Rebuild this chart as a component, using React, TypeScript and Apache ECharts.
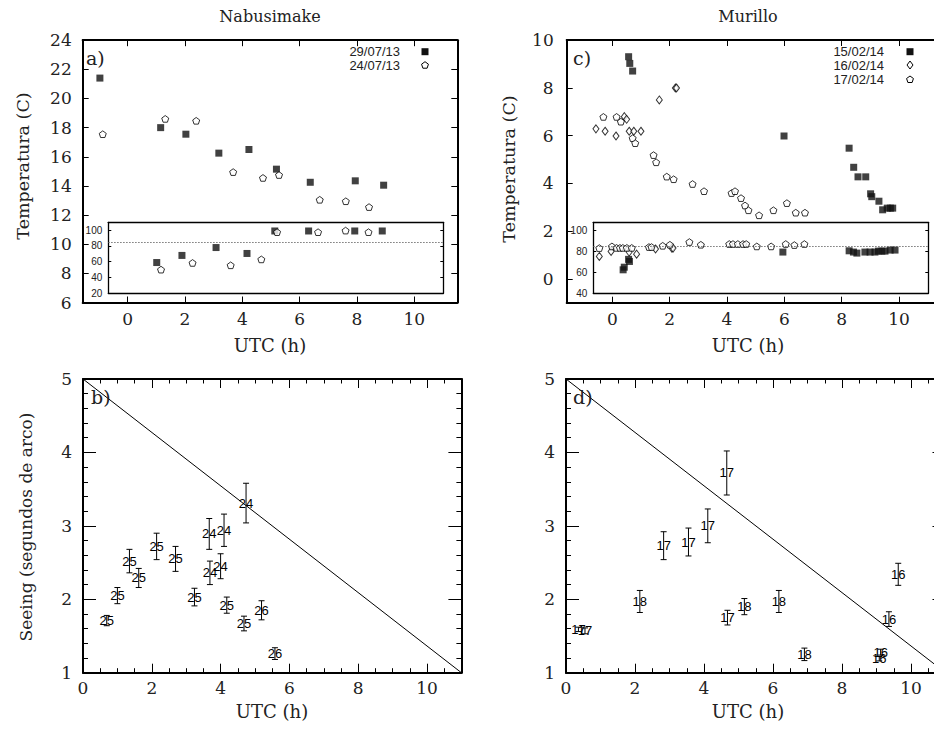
import { useEffect, useRef } from "react";
import * as echarts from "echarts";

const SERIF = "DejaVu Serif";
const SANS = "Liberation Sans";

// ---------- texts ----------
const titleLeft = "Nabusimake";
const titleRight = "Murillo";
const yNameTemp = "Temperatura (C)";
const yNameSeeing = "Seeing (segundos de arco)";
const xName = "UTC (h)";
const panelLabels = ["a)", "b)", "c)", "d)"];
const legendA = ["29/07/13", "24/07/13"];
const legendC = ["15/02/14", "16/02/14", "17/02/14"];

// ---------- tick values ----------
const tempXTicks = [0, 2, 4, 6, 8, 10];
const aYTicks = [6, 8, 10, 12, 14, 16, 18, 20, 22, 24];
const cYTicks = [0, 2, 4, 6, 8, 10];
const aInsetTicks = [20, 40, 60, 80, 100];
const cInsetTicks = [40, 60, 80, 100];
const seeXTicks = [0, 2, 4, 6, 8, 10];
const seeXMinor = [0, 0.5, 1, 1.5, 2, 2.5, 3, 3.5, 4, 4.5, 5, 5.5, 6, 6.5, 7, 7.5, 8, 8.5, 9, 9.5, 10, 10.5, 11];
const seeYTicks = [1, 2, 3, 4, 5];
const seeYMinor = [1, 1.2, 1.4, 1.6, 1.8, 2, 2.2, 2.4, 2.6, 2.8, 3, 3.2, 3.4, 3.6, 3.8, 4, 4.2, 4.4, 4.6, 4.8, 5];
const humidityRef = 85;

// ---------- panel a (Nabusimake temperature) ----------
const aSqX = [-0.97, 1.15, 2.03, 3.18, 4.23, 5.19, 6.37, 7.94, 8.93];
const aSqY = [21.4, 18.0, 17.55, 16.25, 16.5, 15.15, 14.25, 14.35, 14.05];
const aPentX = [-0.87, 1.31, 2.39, 3.68, 4.72, 5.28, 6.7, 7.61, 8.42];
const aPentY = [17.55, 18.6, 18.47, 14.95, 14.55, 14.75, 13.05, 12.95, 12.55];
// inset a (humidity %)
const aInSqX = [1.01, 1.89, 3.08, 4.16, 5.13, 6.31, 7.92, 8.88];
const aInSqY = [59, 68, 78, 70.5, 99, 99, 99, 99];
const aInPentX = [1.16, 2.26, 3.59, 4.66, 5.21, 6.64, 7.6, 8.4];
const aInPentY = [50, 58.5, 55.5, 63, 97.5, 97.5, 99.5, 97.5];

// ---------- panel c (Murillo temperature) ----------
const cSqX = [0.57, 0.61, 0.71, 5.99, 8.26, 8.42, 8.57, 8.84, 9.01, 9.05, 9.3, 9.43, 9.59, 9.7, 9.78];
const cSqY = [9.3, 9.02, 8.7, 5.98, 5.47, 4.67, 4.27, 4.27, 3.56, 3.44, 3.25, 2.89, 2.96, 2.96, 2.96];
const cDiaX = [-0.57, -0.25, 0.13, 0.42, 0.5, 0.59, 0.75, 1.0, 1.64, 2.2, 2.24];
const cDiaY = [6.28, 6.18, 5.98, 6.79, 6.68, 6.18, 6.18, 6.18, 7.49, 7.99, 7.99];
const cPentX = [-0.31, 0.15, 0.3, 0.71, 0.8, 1.44, 1.53, 1.9, 2.14, 2.8, 3.2, 4.16, 4.28, 4.49, 4.63, 4.75, 5.12, 5.62, 6.09, 6.4, 6.72];
const cPentY = [6.78, 6.78, 6.58, 5.89, 5.68, 5.18, 4.88, 4.28, 4.17, 3.97, 3.67, 3.59, 3.67, 3.38, 3.07, 2.87, 2.66, 2.87, 3.17, 2.77, 2.77];
// inset c (humidity %)
const cInSqX = [0.38, 0.42, 0.57, 0.6, 5.95, 8.26, 8.41, 8.53, 8.81, 8.99, 9.16, 9.28, 9.4, 9.51, 9.69, 9.86];
const cInSqY = [62.5, 65, 72.5, 70.5, 79.5, 80.7, 79.5, 78.5, 79.5, 79.5, 79.5, 80.4, 80.4, 80.4, 81.4, 81.4];
const cInDiaX = [-0.45, -0.04, 0.59, 0.85, 1.51, 2.08, 2.12];
const cInDiaY = [75.3, 80.1, 79.5, 77.5, 82.4, 83.3, 83.3];
const cInPentX = [-0.45, -0.01, 0.15, 0.27, 0.37, 0.51, 0.68, 1.28, 1.37, 1.76, 2.01, 2.69, 3.09, 4.08, 4.21, 4.38, 4.56, 4.67, 5.04, 5.54, 6.05, 6.35, 6.7];
const cInPentY = [83.3, 84.9, 83.5, 83.5, 83.5, 83.5, 83.5, 84.3, 84.3, 85.5, 86.5, 89.1, 86.5, 87.2, 87.2, 87.2, 87.2, 87.2, 84.9, 84.9, 87.2, 86.2, 87.2];

// ---------- panel b (Nabusimake seeing) ----------
const bX = [0.69, 1.0, 1.35, 1.62, 2.14, 2.69, 3.24, 3.67, 4.1, 3.69, 4.0, 4.18, 4.68, 4.74, 5.19, 5.58];
const bY = [1.71, 2.05, 2.52, 2.29, 2.72, 2.55, 2.03, 2.89, 2.94, 2.36, 2.45, 1.92, 1.67, 3.31, 1.85, 1.26];
const bErr = [0.07, 0.11, 0.16, 0.13, 0.18, 0.17, 0.12, 0.21, 0.22, 0.16, 0.17, 0.11, 0.1, 0.27, 0.13, 0.08];
const bLab = ["25", "25", "25", "25", "25", "25", "25", "24", "24", "24", "24", "25", "25", "24", "26", "26"];

// ---------- panel d (Murillo seeing) ----------
const dX = [0.36, 0.55, 2.14, 2.83, 3.55, 4.11, 4.66, 4.68, 5.17, 6.17, 6.91, 9.08, 9.12, 9.36, 9.63];
const dY = [1.59, 1.57, 1.97, 2.73, 2.78, 3.0, 3.72, 1.75, 1.9, 1.97, 1.25, 1.19, 1.28, 1.73, 2.34];
const dErr = [0.03, 0.04, 0.15, 0.19, 0.19, 0.23, 0.3, 0.1, 0.11, 0.15, 0.085, 0.03, 0.04, 0.1, 0.15];
const dLab = ["17", "17", "18", "17", "17", "17", "17", "17", "18", "18", "18", "16", "16", "16", "16"];

// reference line in seeing panels
const seeLine = [
  [0, 5],
  [11, 1],
];

const pentPath = "path://M0,-10L9.511,-3.09L5.878,8.09L-5.878,8.09L-9.511,-3.09Z";

type AxOpt = {
  grid: number;
  min: number;
  max: number;
  pos: string;
  ticks: number[];
  len: number;
  lw: number;
  labels?: number[];
  margin?: number;
  size?: number;
  family?: string;
};

function ax(o: AxOpt): any {
  return {
    type: "value",
    gridIndex: o.grid,
    min: o.min,
    max: o.max,
    position: o.pos,
    axisLine: { show: o.lw > 0, onZero: false, lineStyle: { color: "#000", width: o.lw } },
    axisTick: o.ticks.length
      ? { show: true, inside: true, length: o.len, customValues: o.ticks, lineStyle: { color: "#000", width: 1 } }
      : { show: false },
    axisLabel: o.labels
      ? { show: true, customValues: o.labels, margin: o.margin, fontSize: o.size, fontFamily: o.family, color: "#222" }
      : { show: false },
    splitLine: { show: false },
    minorTick: { show: false },
    axisPointer: { show: false },
  };
}

function scatter(name: string, xs: number[], ys: number[], kind: string, xi: number, extra?: any): any {
  const base: any = {
    type: "scatter",
    name,
    xAxisIndex: xi,
    yAxisIndex: xi,
    silent: true,
    z: 3,
    data: xs.map((x, i) => [x, ys[i]]),
  };
  if (kind === "sq") Object.assign(base, { symbol: "rect", symbolSize: 7, itemStyle: { color: "#111" } });
  if (kind === "pent")
    Object.assign(base, {
      symbol: pentPath,
      symbolKeepAspect: true,
      symbolSize: 7,
      itemStyle: { color: "#fff", borderColor: "#000", borderWidth: 1 },
    });
  if (kind === "dia")
    Object.assign(base, {
      symbol: "diamond",
      symbolSize: [6, 8],
      itemStyle: { color: "#fff", borderColor: "#000", borderWidth: 1 },
    });
  return { ...base, ...(extra || {}) };
}

function errSeries(name: string, xs: number[], ys: number[], es: number[], labels: string[], xi: number): any {
  return {
    type: "custom",
    name,
    xAxisIndex: xi,
    yAxisIndex: xi,
    silent: true,
    z: 4,
    data: xs.map((x, i) => [x, ys[i], es[i]]),
    encode: { x: 0, y: 1 },
    renderItem: (params: any, api: any) => {
      const x = api.value(0);
      const y = api.value(1);
      const e = api.value(2);
      const c = api.coord([x, y]);
      const lo = api.coord([x, y - e]);
      const hi = api.coord([x, y + e]);
      const st = { stroke: "#000", lineWidth: 1 };
      return {
        type: "group",
        children: [
          { type: "line", shape: { x1: c[0], y1: lo[1], x2: c[0], y2: hi[1] }, style: st },
          { type: "line", shape: { x1: c[0] - 3, y1: lo[1], x2: c[0] + 3, y2: lo[1] }, style: st },
          { type: "line", shape: { x1: c[0] - 3, y1: hi[1], x2: c[0] + 3, y2: hi[1] }, style: st },
          {
            type: "text",
            x: c[0],
            y: c[1],
            style: {
              text: labels[params.dataIndex],
              fill: "#000",
              fontSize: 13,
              fontFamily: SANS,
              align: "center",
              verticalAlign: "middle",
              textAlign: "center",
              textVerticalAlign: "middle",
            },
          },
        ],
      };
    },
  };
}

function txt(text: string, x: number, y: number, size: number, family: string, align = "center", rot = 0): any {
  return {
    type: "text",
    x,
    y,
    rotation: rot,
    silent: true,
    z: 10,
    style: {
      text,
      fontSize: size,
      fontFamily: family,
      fill: "#222",
      align,
      verticalAlign: "middle",
      textAlign: align,
      textVerticalAlign: "middle",
    },
  };
}

function pentPts(cx: number, cy: number, r: number): number[][] {
  const pts: number[][] = [];
  for (let k = 0; k < 5; k++) {
    const a = -Math.PI / 2 + (k * 2 * Math.PI) / 5;
    pts.push([cx + r * Math.cos(a), cy + r * Math.sin(a)]);
  }
  return pts;
}

function buildOption(): any {
  const xAxis: any[] = [];
  const yAxis: any[] = [];
  const big = { size: 17, family: SERIF };
  const small = { size: 10, family: SANS };

  // grid 0: panel a
  xAxis.push(ax({ grid: 0, min: -1.57, max: 11.5, pos: "bottom", ticks: tempXTicks, len: 6, lw: 2, labels: tempXTicks, margin: 8, ...big }));
  yAxis.push(ax({ grid: 0, min: 6, max: 24, pos: "left", ticks: aYTicks, len: 6, lw: 2, labels: aYTicks, margin: 11, ...big }));
  xAxis.push(ax({ grid: 0, min: -1.57, max: 11.5, pos: "top", ticks: tempXTicks, len: 6, lw: 2 }));
  yAxis.push(ax({ grid: 0, min: 6, max: 24, pos: "right", ticks: aYTicks, len: 6, lw: 2 }));
  // grid 1: inset a
  xAxis.push(ax({ grid: 1, min: -0.68, max: 11.01, pos: "bottom", ticks: [], len: 0, lw: 1.3 }));
  yAxis.push(ax({ grid: 1, min: 20, max: 110, pos: "left", ticks: aInsetTicks, len: 3, lw: 1.3, labels: aInsetTicks, margin: 6, ...small }));
  xAxis.push(ax({ grid: 1, min: -0.68, max: 11.01, pos: "top", ticks: [], len: 0, lw: 1.3 }));
  yAxis.push(ax({ grid: 1, min: 20, max: 110, pos: "right", ticks: aInsetTicks, len: 3, lw: 1.3 }));
  // grid 2: panel c
  xAxis.push(ax({ grid: 2, min: -1.59, max: 11.5, pos: "bottom", ticks: tempXTicks, len: 6, lw: 2, labels: tempXTicks, margin: 8, ...big }));
  yAxis.push(ax({ grid: 2, min: -1, max: 10, pos: "left", ticks: cYTicks, len: 6, lw: 2, labels: cYTicks, margin: 13, ...big }));
  xAxis.push(ax({ grid: 2, min: -1.59, max: 11.5, pos: "top", ticks: tempXTicks, len: 6, lw: 2 }));
  yAxis.push(ax({ grid: 2, min: -1, max: 10, pos: "right", ticks: cYTicks, len: 6, lw: 2 }));
  // grid 3: inset c
  xAxis.push(ax({ grid: 3, min: -0.66, max: 11.02, pos: "bottom", ticks: [], len: 0, lw: 1.3 }));
  yAxis.push(ax({ grid: 3, min: 40, max: 108, pos: "left", ticks: cInsetTicks, len: 3, lw: 1.3, labels: cInsetTicks, margin: 6, ...small }));
  xAxis.push(ax({ grid: 3, min: -0.66, max: 11.02, pos: "top", ticks: [], len: 0, lw: 1.3 }));
  yAxis.push(ax({ grid: 3, min: 40, max: 108, pos: "right", ticks: cInsetTicks, len: 3, lw: 1.3 }));
  // grid 4: panel b ; grid 5: panel d
  for (const g of [4, 5]) {
    xAxis.push(ax({ grid: g, min: 0, max: 11, pos: "bottom", ticks: seeXTicks, len: 9, lw: 2, labels: seeXTicks, margin: 7, ...big }));
    yAxis.push(ax({ grid: g, min: 1, max: 5, pos: "left", ticks: seeYTicks, len: 13, lw: 2, labels: seeYTicks, margin: 11, ...big }));
    xAxis.push(ax({ grid: g, min: 0, max: 11, pos: "bottom", ticks: seeXMinor, len: 4.5, lw: 0 }));
    yAxis.push(ax({ grid: g, min: 1, max: 5, pos: "left", ticks: seeYMinor, len: 5, lw: 0 }));
    xAxis.push(ax({ grid: g, min: 0, max: 11, pos: "top", ticks: seeXTicks, len: 9, lw: 2 }));
    yAxis.push(ax({ grid: g, min: 1, max: 5, pos: "right", ticks: seeYTicks, len: 13, lw: 2 }));
    xAxis.push(ax({ grid: g, min: 0, max: 11, pos: "top", ticks: seeXMinor, len: 4.5, lw: 0 }));
    yAxis.push(ax({ grid: g, min: 1, max: 5, pos: "right", ticks: seeYMinor, len: 5, lw: 0 }));
  }
  // axis index: a=0, a inset=2, c=4, c inset=6, b=8, d=12

  const refLine = {
    silent: true,
    symbol: ["none", "none"],
    label: { show: false },
    lineStyle: { type: [1.2, 1.8], color: "#555", width: 1.2 },
    data: [{ yAxis: humidityRef }],
  };

  const series: any[] = [
    scatter(legendA[0], aSqX, aSqY, "sq", 0),
    scatter(legendA[1], aPentX, aPentY, "pent", 0),
    scatter(legendA[0], aInSqX, aInSqY, "sq", 2, { markLine: refLine }),
    scatter(legendA[1], aInPentX, aInPentY, "pent", 2),
    scatter(legendC[0], cSqX, cSqY, "sq", 4),
    scatter(legendC[1], cDiaX, cDiaY, "dia", 4),
    scatter(legendC[2], cPentX, cPentY, "pent", 4),
    scatter(legendC[0], cInSqX, cInSqY, "sq", 6, { markLine: refLine }),
    scatter(legendC[1], cInDiaX, cInDiaY, "dia", 6),
    scatter(legendC[2], cInPentX, cInPentY, "pent", 6),
    {
      type: "line",
      data: seeLine,
      xAxisIndex: 8,
      yAxisIndex: 8,
      showSymbol: false,
      symbol: "none",
      silent: true,
      lineStyle: { color: "#000", width: 1 },
    },
    errSeries("Nabusimake seeing", bX, bY, bErr, bLab, 8),
    {
      type: "line",
      data: seeLine,
      xAxisIndex: 12,
      yAxisIndex: 12,
      showSymbol: false,
      symbol: "none",
      silent: true,
      lineStyle: { color: "#000", width: 1 },
    },
    errSeries("Murillo seeing", dX, dY, dErr, dLab, 12),
  ];

  const graphic: any[] = [
    txt(titleLeft, 270, 16, 16, SERIF),
    txt(titleRight, 748, 16, 16, SERIF),
    txt(yNameTemp, 23, 166, 17.5, SERIF, "center", Math.PI / 2),
    txt(yNameTemp, 509, 169, 17.5, SERIF, "center", Math.PI / 2),
    txt(yNameSeeing, 26, 527, 17, SERIF, "center", Math.PI / 2),
    txt(xName, 270, 345, 18, SERIF),
    txt(xName, 748, 345, 18, SERIF),
    txt(xName, 272, 711, 18, SERIF),
    txt(xName, 748, 711, 18, SERIF),
    txt(panelLabels[0], 86, 58, 19, SERIF, "left"),
    txt(panelLabels[2], 573, 58, 19, SERIF, "left"),
    txt(panelLabels[1], 91, 397, 19, SERIF, "left"),
    txt(panelLabels[3], 573, 397, 19, SERIF, "left"),
    // legend a
    txt(legendA[0], 400, 51.7, 13, SANS, "right"),
    txt(legendA[1], 400, 65, 13, SANS, "right"),
    { type: "rect", z: 10, silent: true, shape: { x: 421.5, y: 48.2, width: 7, height: 7 }, style: { fill: "#111" } },
    { type: "polygon", z: 10, silent: true, shape: { points: pentPts(425, 65.3, 3.6) }, style: { fill: "#fff", stroke: "#000", lineWidth: 1 } },
    // legend c
    txt(legendC[0], 884, 51.7, 13, SANS, "right"),
    txt(legendC[1], 884, 65, 13, SANS, "right"),
    txt(legendC[2], 884, 79.3, 13, SANS, "right"),
    { type: "rect", z: 10, silent: true, shape: { x: 906.5, y: 48.2, width: 7, height: 7 }, style: { fill: "#111" } },
    {
      type: "polygon",
      z: 10,
      silent: true,
      shape: { points: [[910, 61], [913, 65], [910, 69], [907, 65]] },
      style: { fill: "#fff", stroke: "#000", lineWidth: 1 },
    },
    { type: "polygon", z: 10, silent: true, shape: { points: pentPts(910, 79.6, 3.6) }, style: { fill: "#fff", stroke: "#000", lineWidth: 1 } },
  ];

  const gridBase = { outerBoundsMode: "none", containLabel: false, show: false };
  return {
    animation: false,
    backgroundColor: "#fff",
    textStyle: { fontFamily: SERIF },
    grid: [
      { ...gridBase, left: 82.7, top: 40.2, width: 374.6, height: 262.3 },
      { ...gridBase, left: 108.3, top: 222.3, width: 335, height: 71 },
      { ...gridBase, left: 566.7, top: 40, width: 375.3, height: 262.7 },
      { ...gridBase, left: 593.3, top: 222.3, width: 335, height: 71 },
      { ...gridBase, left: 83, top: 379, width: 378.4, height: 293.7 },
      { ...gridBase, left: 566, top: 379, width: 379.5, height: 293.7 },
    ],
    xAxis,
    yAxis,
    series,
    graphic,
  };
}

export default function App() {
  const ref = useRef<HTMLDivElement>(null);
  useEffect(() => {
    if (!ref.current) return;
    const chart = echarts.init(ref.current, undefined, { renderer: "svg" });
    chart.setOption(buildOption());
    return () => chart.dispose();
  }, []);
  return (
    <div
      ref={ref}
      style={{ position: "fixed", left: 0, top: 0, width: 934, height: 729, background: "#fff", overflow: "hidden" }}
    />
  );
}
